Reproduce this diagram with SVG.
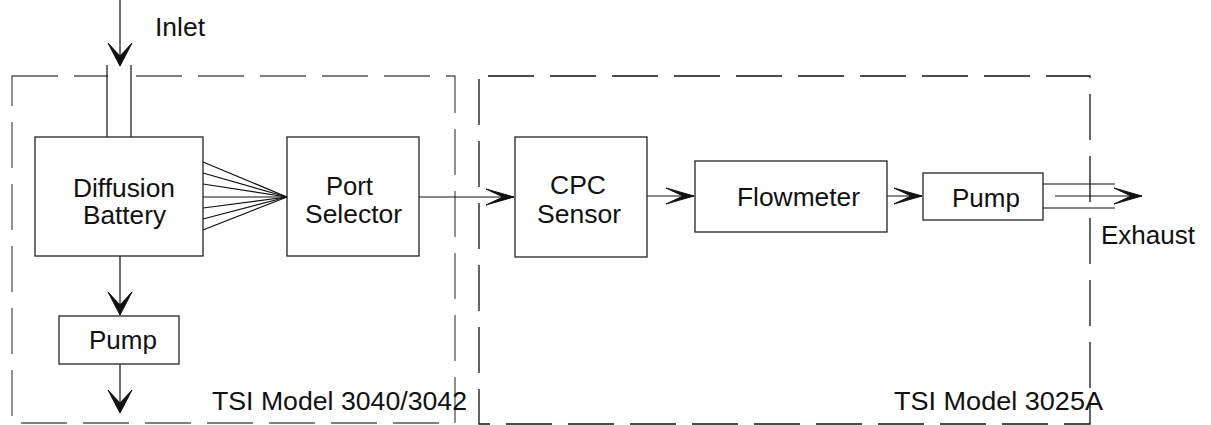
<svg xmlns="http://www.w3.org/2000/svg" width="1211" height="425" viewBox="0 0 1211 425">
  <style>
    .box { fill: #ffffff; stroke: #222222; stroke-width: 1.3; }
    .dash { fill: none; stroke-width: 1.3; stroke-dasharray: 46 16; }
    .ln { fill: none; stroke: #111111; stroke-width: 1.2; }
    .lbl { font-family: "Liberation Sans", Arial, sans-serif; font-size: 25px; fill: #111111; }
    .big { font-family: "Liberation Sans", Arial, sans-serif; font-size: 26px; fill: #111111; }
    .head { fill: #111111; stroke: #111111; stroke-width: 1; stroke-linejoin: miter; }
  </style>
  <defs>
    <marker id="arrowH" markerUnits="userSpaceOnUse" viewBox="-30 -10 32 20" markerWidth="32" markerHeight="20" refX="0" refY="0" orient="auto" overflow="visible">
      <path class="head" d="M0,0 L-28,-8 L-11,0 L-28,8 Z"/>
    </marker>
    <marker id="arrowV" markerUnits="userSpaceOnUse" viewBox="-26 -14 28 28" markerWidth="28" markerHeight="28" refX="0" refY="0" orient="auto" overflow="visible">
      <path class="head" d="M0,0 L-23,-12 L-10,0 L-23,12 Z"/>
    </marker>
  </defs>

  <rect width="1211" height="425" fill="#ffffff"/>

  <g id="group-3040">
    <rect class="dash" x="12" y="76" width="443" height="347" stroke="#555555"/>
    <text class="lbl" x="212" y="410" textLength="255" lengthAdjust="spacingAndGlyphs">TSI Model 3040/3042</text>
  </g>
  <g id="group-3025A">
    <rect class="dash" x="479" y="76" width="611" height="348" stroke="#111111" stroke-dashoffset="53"/>
    <text class="lbl" x="894" y="410" textLength="209" lengthAdjust="spacingAndGlyphs">TSI Model 3025A</text>
  </g>

  <g id="connectors">
    <!-- inlet tube -->
    <rect x="108" y="66" width="22" height="20" fill="#ffffff"/>
    <line class="ln" x1="107" y1="65" x2="107" y2="137"/>
    <line class="ln" x1="131" y1="65" x2="131" y2="137" stroke="#555555"/>
    <line class="ln" x1="120" y1="0" x2="120" y2="66" marker-end="url(#arrowV)"/>
    <!-- fan from diffusion battery to port selector -->
    <line class="ln" x1="203" y1="162" x2="287" y2="197"/>
    <line class="ln" x1="203" y1="173" x2="287" y2="197"/>
    <line class="ln" x1="203" y1="184" x2="287" y2="197"/>
    <line class="ln" x1="203" y1="197" x2="287" y2="197"/>
    <line class="ln" x1="203" y1="208" x2="287" y2="197"/>
    <line class="ln" x1="203" y1="219" x2="287" y2="197"/>
    <line class="ln" x1="203" y1="230" x2="287" y2="197"/>
    <!-- main flow -->
    <line class="ln" x1="419" y1="197" x2="514" y2="197" marker-end="url(#arrowH)"/>
    <line class="ln" x1="647" y1="196" x2="694" y2="196" marker-end="url(#arrowH)"/>
    <line class="ln" x1="887" y1="196" x2="922" y2="196" marker-end="url(#arrowH)"/>
    <!-- exhaust -->
    <line class="ln" x1="1043" y1="184" x2="1115" y2="184"/>
    <line class="ln" x1="1043" y1="208" x2="1115" y2="208"/>
    <line class="ln" x1="1055" y1="196" x2="1142" y2="196" marker-end="url(#arrowH)"/>
    <!-- to pump and out -->
    <line class="ln" x1="120" y1="256" x2="120" y2="315" marker-end="url(#arrowV)"/>
    <line class="ln" x1="120" y1="364" x2="120" y2="413" marker-end="url(#arrowV)"/>
  </g>

  <g id="inlet-label">
    <text class="big" x="155" y="36" textLength="50" lengthAdjust="spacingAndGlyphs">Inlet</text>
  </g>
  <g id="exhaust-label">
    <text class="big" x="1101" y="244" textLength="94" lengthAdjust="spacingAndGlyphs">Exhaust</text>
  </g>

  <g id="diffusion-battery">
    <rect class="box" x="35" y="137" width="168" height="119"/>
    <text class="lbl" x="73" y="197" textLength="102" lengthAdjust="spacingAndGlyphs">Diffusion</text>
    <text class="lbl" x="83" y="224" textLength="83" lengthAdjust="spacingAndGlyphs">Battery</text>
  </g>
  <g id="port-selector">
    <rect class="box" x="287" y="137" width="132" height="119"/>
    <text class="lbl" x="326" y="195" textLength="47" lengthAdjust="spacingAndGlyphs">Port</text>
    <text class="lbl" x="305" y="223" textLength="97" lengthAdjust="spacingAndGlyphs">Selector</text>
  </g>
  <g id="cpc-sensor">
    <rect class="box" x="515" y="137" width="132" height="120"/>
    <text class="lbl" x="550" y="194" textLength="56" lengthAdjust="spacingAndGlyphs">CPC</text>
    <text class="lbl" x="537" y="223" textLength="84" lengthAdjust="spacingAndGlyphs">Sensor</text>
  </g>
  <g id="flowmeter">
    <rect class="box" x="695" y="161" width="192" height="71"/>
    <text class="lbl" x="737" y="206" textLength="123" lengthAdjust="spacingAndGlyphs">Flowmeter</text>
  </g>
  <g id="pump-exhaust">
    <rect class="box" x="923" y="173" width="120" height="47"/>
    <text class="lbl" x="952" y="207" textLength="68" lengthAdjust="spacingAndGlyphs">Pump</text>
  </g>
  <g id="pump-bypass">
    <rect class="box" x="59" y="316" width="120" height="48"/>
    <text class="lbl" x="89" y="349" textLength="68" lengthAdjust="spacingAndGlyphs">Pump</text>
  </g>
</svg>
